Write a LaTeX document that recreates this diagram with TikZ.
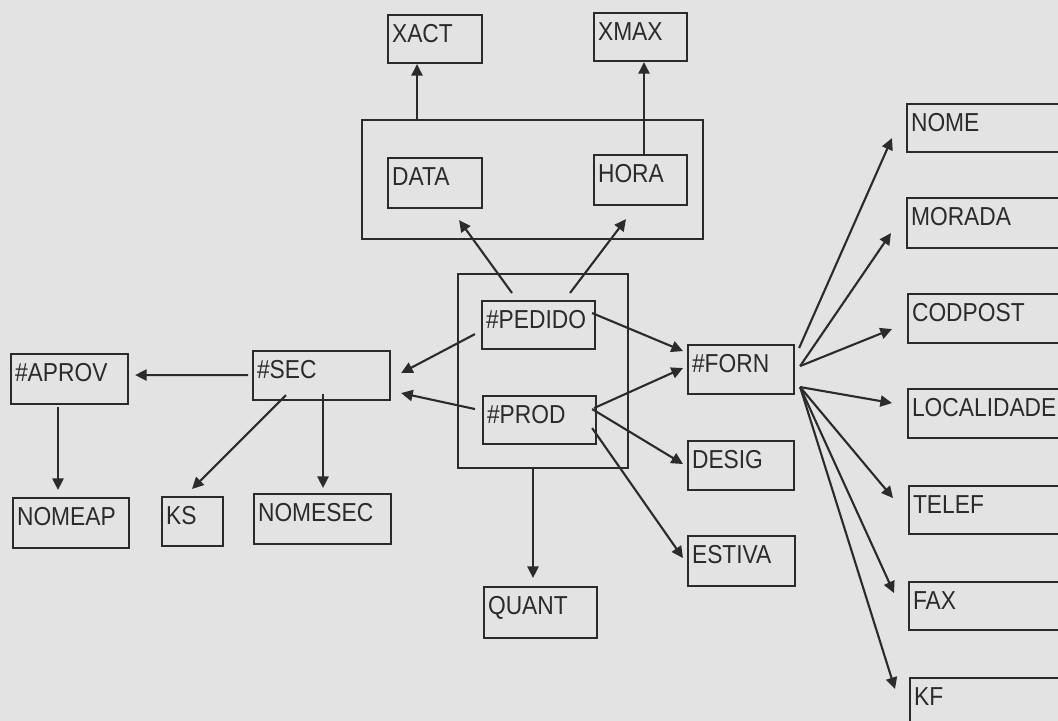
\documentclass[tikz,border=0pt]{standalone}
\usepackage{fontspec}
\setmainfont{Liberation Sans}
\usepackage{graphicx}
\usetikzlibrary{arrows.meta,calc}
\definecolor{ink}{HTML}{2B2B2B}
\definecolor{paper}{HTML}{E3E3E3}
\newcommand\tx[1]{\scalebox{1}[1.14]{#1}}
\newcommand\bx[6]{%
  \pgfmathsetlengthmacro\bw{(#4-#2-8)*0.025cm}%
  \pgfmathsetlengthmacro\bd{(#5-#3-27)*0.025cm}%
  \node[box, text width=\bw, text depth=\bd] (#1) at (#2,#3) {\tx{#6}};}
\begin{document}
\begin{tikzpicture}[x=0.025cm,y=-0.025cm,
  box/.style={draw=ink, line width=1.5pt, anchor=north west, inner xsep=0.1cm, inner ysep=0pt,
    text height=0.675cm, align=left, text=ink, font=\fontsize{16.2}{18}\selectfont},
  arr/.style={draw=ink, line width=1.5pt, -{Triangle[length=0.29cm,width=0.28cm]}}]
\fill[paper] (0,0) rectangle (1058,721);
\useasboundingbox (0,0) rectangle (1058,721);
\clip (0,0) rectangle (1058,721);
% boxes
\bx{xact}{387}{14}{481}{62}{XACT}
\bx{xmax}{593}{12}{686}{60}{XMAX}
\bx{grp1}{361}{119}{702}{238}{}
\bx{data}{387}{157}{481}{207}{DATA}
\bx{hora}{593}{154}{686}{204}{HORA}
\bx{grp2}{457}{273}{627}{467}{}
\bx{pedido}{481}{300}{594}{348}{\#PEDIDO}
\bx{prod}{482}{395}{595}{443}{\#PROD}
\bx{forn}{687}{344}{793}{393}{\#FORN}
\bx{desig}{687}{440}{793}{489}{DESIG}
\bx{estiva}{687}{535}{794}{585}{ESTIVA}
\bx{quant}{483}{586}{596}{637}{QUANT}
\bx{aprov}{10}{353}{127}{403}{\#APROV}
\bx{sec}{252}{350}{389}{399}{\#SEC}
\bx{nomeap}{12}{497}{128}{547}{NOMEAP}
\bx{ks}{161}{496}{222}{545}{KS}
\bx{nomesec}{253}{493}{390}{543}{NOMESEC}
\bx{nome}{906}{103}{1075}{151}{NOME}
\bx{morada}{906}{197}{1075}{247}{MORADA}
\bx{codpost}{907}{293}{1075}{342}{CODPOST}
\bx{localidade}{907}{388}{1075}{437}{LOCALIDADE}
\bx{telef}{908}{485}{1075}{533}{TELEF}
\bx{fax}{908}{581}{1075}{629}{FAX}
\bx{kf}{909}{677}{1075}{725}{KF}
% connectors
\draw[arr] ($(grp1.north west)+(56,0)$) -- ($(xact.south west)+(30,0)$);
\draw[arr] ($(hora.north west)+(51,0)$) -- ($(xmax.south west)+(51,0)$);
\draw[arr] ($(pedido.north west)+(31,-7)$) -- ($(data.south east)+(-24,11)$);
\draw[arr] ($(pedido.north west)+(89,-7)$) -- ($(hora.south west)+(33,13)$);
\draw[arr] ($(pedido.east)+(-4,-12)$) -- ($(forn.west)+(-4,-18.5)$);
\draw[arr] ($(prod.east)+(-3,-12)$) -- ($(forn.west)+(-4,-1.5)$);
\draw[arr] ($(prod.east)+(-5,-11)$) -- ($(desig.west)+(-4,-1.5)$);
\draw[arr] ($(prod.east)+(-5,8)$) -- ($(estiva.west)+(-4,-3)$);
\draw[arr] ($(grp2.south west)+(76,0)$) -- ($(quant.north west)+(50,-8)$);
\draw[arr] ($(pedido.west)+(-6,9)$) -- ($(sec.east)+(10,-2.5)$);
\draw[arr] ($(prod.west)+(-7,-11)$) -- ($(sec.east)+(10,17.5)$);
\draw[arr] ($(sec.west)+(-4,-0.5)$) -- ($(aprov.east)+(6,-4)$);
\draw[arr] ($(aprov.south west)+(48,2)$) -- ($(nomeap.north west)+(46,-7)$);
\draw[arr] ($(sec.south west)+(34,-6)$) -- ($(ks.north west)+(31,-7)$);
\draw[arr] ($(sec.south west)+(71,-7)$) -- ($(nomesec.north west)+(70,-5)$);
\draw[arr] ($(forn.east)+(4,-21.5)$) -- ($(nome.west)+(-14,10)$);
\draw[arr] ($(forn.east)+(5,-3.5)$) -- ($(morada.west)+(-15,10)$);
\draw[arr] ($(forn.east)+(5,-3.5)$) -- ($(codpost.west)+(-15,10.5)$);
\draw[arr] ($(forn.east)+(5,17.5)$) -- ($(localidade.west)+(-15,-10.5)$);
\draw[arr] ($(forn.east)+(5,17.5)$) -- ($(telef.west)+(-15,-12)$);
\draw[arr] ($(forn.east)+(5,17.5)$) -- ($(fax.west)+(-14,-13)$);
\draw[arr] ($(forn.east)+(5,17.5)$) -- ($(kf.west)+(-14,-13)$);
\end{tikzpicture}
\end{document}
